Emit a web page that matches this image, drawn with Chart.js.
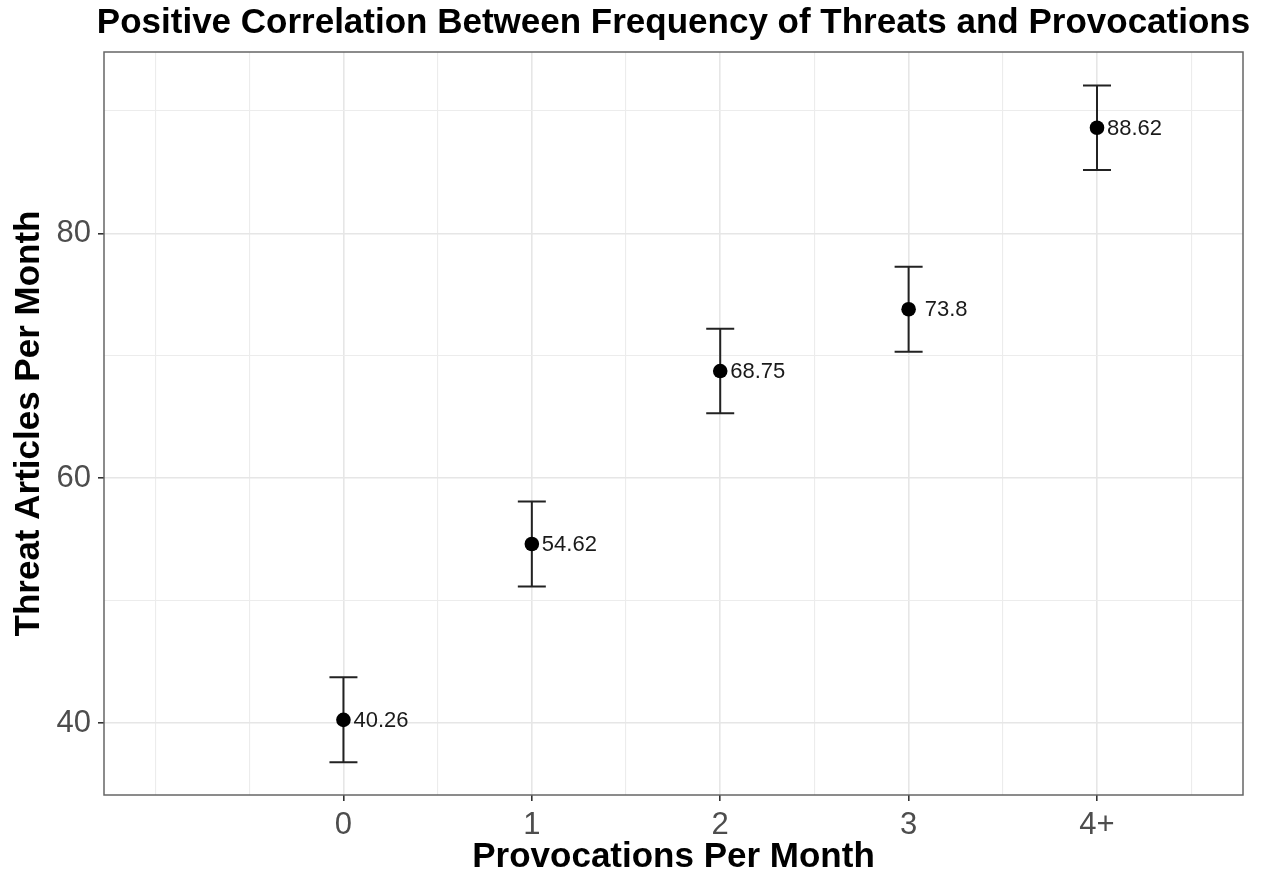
<!DOCTYPE html>
<html>
<head>
<meta charset="utf-8">
<script src="https://cdn.jsdelivr.net/npm/chart.js@4/dist/chart.umd.min.js"></script>
<style>
  html, body { margin: 0; padding: 0; background: #fff; }
  #wrap { width: 1268px; height: 875px; }
</style>
</head>
<body>
<div id="wrap"><canvas id="chart" width="1268" height="875"></canvas></div>
<script>
// provocations per month (x) and mean threat articles per month (y)
const categories = ['0', '1', '2', '3', '4+'];
const xPositions = [0, 1, 2, 3, 4];
const means = [40.26, 54.62, 68.75, 73.8, 88.62];
const lower = [36.79, 51.15, 65.30, 70.33, 85.17];
const upper = [43.73, 58.09, 72.20, 77.27, 92.07];
const pointLabels = ['40.26', '54.62', '68.75', ' 73.8', '88.62'];

const xGridBreaks = [-1, -0.5, 0, 0.5, 1, 1.5, 2, 2.5, 3, 3.5, 4, 4.5];
const yGridBreaks = [40, 50, 60, 70, 80, 90];
const yTickLabels = ['40', '60', '80'];

const FONT = '"Liberation Sans", Arial, Helvetica, sans-serif';

const isMajorX = v => xPositions.includes(v);
const isMajorY = v => yTickLabels.includes(String(v));

// frame + title + error bars + value labels
const extras = {
  id: 'extras',
  beforeDatasetsDraw(chart) {
    const {ctx, scales: {x, y}} = chart;
    ctx.save();
    ctx.strokeStyle = '#222';
    ctx.lineWidth = 2;
    xPositions.forEach((v, i) => {
      const px = x.getPixelForValue(v);
      const top = y.getPixelForValue(upper[i]);
      const bot = y.getPixelForValue(lower[i]);
      ctx.beginPath();
      ctx.moveTo(px, top); ctx.lineTo(px, bot);
      ctx.moveTo(px - 14, top); ctx.lineTo(px + 14, top);
      ctx.moveTo(px - 14, bot); ctx.lineTo(px + 14, bot);
      ctx.stroke();
    });
    ctx.restore();
  },
  afterDatasetsDraw(chart) {
    const {ctx, chartArea: a, scales: {x, y}} = chart;
    ctx.save();
    ctx.font = '22px ' + FONT;
    ctx.fillStyle = '#1a1a1a';
    ctx.textAlign = 'left';
    ctx.textBaseline = 'middle';
    xPositions.forEach((v, i) => {
      ctx.fillText(pointLabels[i], x.getPixelForValue(v) + 10, y.getPixelForValue(means[i]) + 1);
    });

    ctx.strokeStyle = '#666';
    ctx.lineWidth = 1.5;
    ctx.strokeRect(a.left, a.top, a.right - a.left, a.bottom - a.top);

    ctx.font = 'bold 35px ' + FONT;
    ctx.fillStyle = '#000';
    ctx.textAlign = 'center';
    ctx.fillText('Positive Correlation Between Frequency of Threats and Provocations', (a.left + a.right) / 2, 23);
    ctx.restore();
  }
};

new Chart(document.getElementById('chart'), {
  type: 'scatter',
  data: {
    datasets: [{
      data: xPositions.map((v, i) => ({x: v, y: means[i]})),
      pointRadius: 7.3,
      pointHoverRadius: 7.3,
      backgroundColor: '#000',
      borderWidth: 0
    }]
  },
  options: {
    responsive: false,
    animation: false,
    layout: {padding: {top: 52, right: 25, left: 0, bottom: 0}},
    plugins: {legend: {display: false}, tooltip: {enabled: false}},
    scales: {
      x: {
        type: 'linear',
        min: -1.271,
        max: 4.775,
        afterBuildTicks: s => { s.ticks = xGridBreaks.map(v => ({value: v})); },
        afterFit: s => { s.height = 80; },
        border: {display: false},
        grid: {
          color: ctx => isMajorX(ctx.tick.value) ? '#e6e6e6' : '#ececec',
          lineWidth: ctx => isMajorX(ctx.tick.value) ? 1.6 : 1.1,
          tickColor: ctx => isMajorX(ctx.tick.value) ? '#333' : 'rgba(0,0,0,0)',
          tickLength: 6
        },
        ticks: {
          autoSkip: false,
          maxRotation: 0,
          padding: 6,
          color: '#4d4d4d',
          font: {family: FONT, size: 31},
          callback: v => isMajorX(v) ? categories[xPositions.indexOf(v)] : ''
        },
        title: {
          display: true,
          text: 'Provocations Per Month',
          color: '#000',
          font: {family: FONT, size: 35, weight: 'bold', lineHeight: 1},
          padding: {top: 0, bottom: 0}
        }
      },
      y: {
        min: 34.12,
        max: 94.81,
        afterBuildTicks: s => { s.ticks = yGridBreaks.map(v => ({value: v})); },
        afterFit: s => { s.width = 104; },
        border: {display: false},
        grid: {
          color: ctx => isMajorY(ctx.tick.value) ? '#e6e6e6' : '#ececec',
          lineWidth: ctx => isMajorY(ctx.tick.value) ? 1.6 : 1.1,
          tickColor: ctx => isMajorY(ctx.tick.value) ? '#333' : 'rgba(0,0,0,0)',
          tickLength: 6
        },
        ticks: {
          autoSkip: false,
          padding: 7,
          color: '#4d4d4d',
          font: {family: FONT, size: 31},
          callback: v => isMajorY(v) ? String(v) : ''
        },
        title: {
          display: true,
          text: 'Threat Articles Per Month',
          color: '#000',
          font: {family: FONT, size: 35, weight: 'bold', lineHeight: 1},
          padding: {top: 12, bottom: 0}
        }
      }
    }
  },
  plugins: [extras]
});
</script>
</body>
</html>
